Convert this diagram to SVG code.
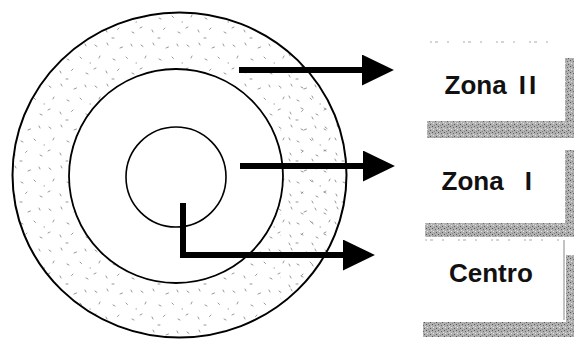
<svg xmlns="http://www.w3.org/2000/svg" width="574" height="339" viewBox="0 0 574 339">
  <style>
    .ring { stroke: #000; fill: none; }
    .ring.white { fill: #fff; }
    .lbl { font-family: "Liberation Sans", Arial, Helvetica, sans-serif; font-weight: bold; font-size: 26px; fill: #111; }
    .shade { fill: url(#shadePat); }
    .edge { stroke: #aaa; stroke-width: 1; fill: none; stroke-dasharray: 2 3 3 9 2 14; }
    .conn { stroke: #000; stroke-width: 6; fill: none; stroke-linejoin: miter; marker-end: url(#ah); }
  </style>
  <defs>
    <pattern id="stipple" patternUnits="userSpaceOnUse" width="46" height="41">
      <rect width="46" height="41" fill="#fff"/>
      <g stroke="#8a8a8a" stroke-width="0.9" stroke-linecap="round">
        <path d="M3,4 l2,1.5"/>
        <path d="M15,2 l1,2"/>
        <path d="M28,7 l2.5,-1"/>
        <path d="M39,3 l1,2"/>
        <path d="M8,15 l-1,2"/>
        <path d="M21,18 l2,1"/>
        <path d="M34,16 l1.5,1.5"/>
        <path d="M2,28 l2,-1"/>
        <path d="M14,30 l1,2"/>
        <path d="M27,28 l-1.5,1.5"/>
        <path d="M40,32 l2,1"/>
        <path d="M20,38 l2,0"/>
        <path d="M44,22 l0.5,0"/>
      </g>
    </pattern>
    <pattern id="stippleDense" patternUnits="userSpaceOnUse" width="23" height="21">
      <g stroke="#8a8a8a" stroke-width="0.9" stroke-linecap="round">
        <path d="M2,3 l2,1"/>
        <path d="M13,12 l1,2"/>
      </g>
    </pattern>
    <pattern id="shadePat" patternUnits="userSpaceOnUse" width="6" height="6">
      <rect width="6" height="6" fill="#b0b0b0"/>
      <rect x="0" y="0" width="1" height="1" fill="#555"/>
      <rect x="3" y="1" width="1" height="1" fill="#6a6a6a"/>
      <rect x="1" y="3" width="1" height="1" fill="#e6e6e6"/>
      <rect x="4" y="4" width="1" height="1" fill="#555"/>
      <rect x="2" y="5" width="1" height="1" fill="#888"/>
      <rect x="5" y="2" width="1" height="1" fill="#ddd"/>
    </pattern>
    <clipPath id="rightPart">
      <rect x="280" y="0" width="90" height="339"/>
    </clipPath>
    <marker id="ah" markerUnits="userSpaceOnUse" markerWidth="32" markerHeight="31" viewBox="0 0 31 30" refX="2" refY="15" orient="auto">
      <path d="M0,0 L31,15 L0,30 Z" fill="#000"/>
    </marker>
  </defs>

  <g id="rings">
    <ellipse cx="179.5" cy="175" rx="167" ry="162.5" fill="url(#stipple)" stroke="none"/>
    <ellipse cx="179.5" cy="175" rx="167" ry="162.5" fill="url(#stippleDense)" stroke="none" clip-path="url(#rightPart)"/>
    <ellipse class="ring" cx="179.5" cy="175" rx="167" ry="162.5" stroke-width="2"/>
    <circle class="ring white" cx="176" cy="176" r="107" stroke-width="1.8"/>
    <circle class="ring" cx="176" cy="177" r="50" stroke-width="1.6"/>
  </g>

  <g id="box-zona2">
    <path class="edge" d="M430,42 H562"/>
    <rect class="shade" x="427" y="121" width="147" height="17"/>
    <rect class="shade" x="565" y="58" width="9" height="80"/>
    <text class="lbl" x="444.5" y="94">Zona <tspan dx="5">I</tspan><tspan dx="3">I</tspan></text>
  </g>

  <g id="box-zona1">
    <rect class="shade" x="425" y="223" width="149" height="14"/>
    <rect class="shade" x="565" y="150" width="9" height="87"/>
    <text class="lbl" x="441.5" y="190">Zona <tspan dx="14">I</tspan></text>
  </g>

  <g id="box-centro">
    <path class="edge" d="M425,240 H560"/>
    <path d="M564,240 V320" stroke="#888" stroke-width="1" fill="none"/>
    <rect class="shade" x="423" y="322" width="151" height="15"/>
    <rect class="shade" x="566" y="255" width="8" height="82"/>
    <text class="lbl" x="449" y="282">Centro</text>
  </g>

  <g id="connectors">
    <path class="conn" d="M239,70 H364"/>
    <path class="conn" d="M240,166 H365"/>
    <path class="conn" d="M183,203 V255 H345"/>
  </g>
</svg>
